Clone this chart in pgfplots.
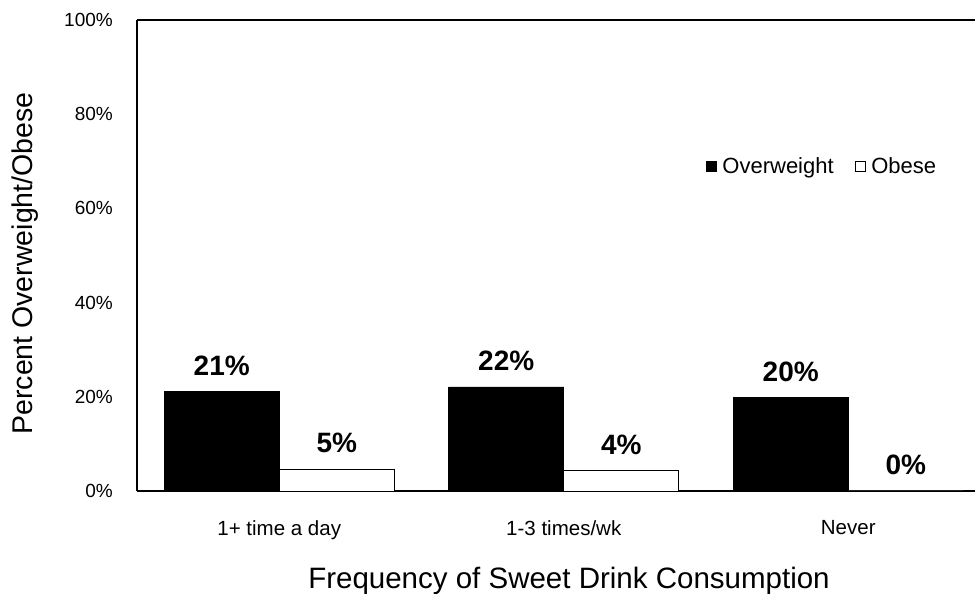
\documentclass[border=0pt]{standalone}
\usepackage{fontspec}
\setmainfont{Liberation Sans}
\usepackage{pgfplots}
\pgfplotsset{compat=1.18}

\pgfplotsset{
  sqleg/.style={legend image code/.code={\draw[##1,line width=0.6pt] (0pt,-5pt) rectangle (10pt,5pt);}},
}

\begin{document}
\begin{tikzpicture}
\begin{axis}[
  scale only axis, width=838pt, height=471pt,
  ybar=0pt, bar width=115pt,
  xmin=-0.5, xmax=2.4455, ymin=0, ymax=100,
  axis x line*=bottom, axis y line*=left,
  axis line style={-, line width=1.5pt},
  xtick=data, xticklabels={1+ time a day,1-3 times/wk,Never},
  ytick={0,20,...,100},
  yticklabel={\pgfmathprintnumber{\tick}\%},
  /pgf/number format/assume math mode=true,
  major tick length=0pt,
  yticklabel style={font=\fontsize{19}{22}\selectfont, inner sep=0pt, xshift=-24pt},
  xticklabel style={font=\fontsize{20.5}{24}\selectfont, inner sep=0pt, yshift=-29pt},
  xlabel={Frequency of Sweet Drink Consumption},
  xlabel style={font=\fontsize{29.5}{34}\selectfont, at={(rel axis cs:0.5155,0)}, anchor=base, yshift=-97pt},
  ylabel={Percent Overweight/Obese},
  ylabel style={font=\fontsize{28.5}{33}\selectfont, at={([xshift=-104pt]rel axis cs:0,0.483)}, anchor=base},
  nodes near coords={\pgfmathprintnumber[fixed,precision=0]{\pgfplotspointmeta}\%},
  nodes near coords style={font=\bfseries\fontsize{28}{32}\selectfont, anchor=south, inner sep=0pt, yshift=16pt, text=black},
  legend style={at={(rel axis cs:0.675,0.69)}, anchor=west, draw=none, fill=none,
    legend columns=2, font=\fontsize{22}{26}\selectfont,
    /tikz/every even column/.append style={column sep=19pt}},
]
\addplot[sqleg, fill=black, draw=black, line width=0.6pt] coordinates {(0,21.1) (1,22.1) (2,19.8)};
\addlegendentry{\hspace{4pt}Overweight}
\addplot[sqleg, fill=white, draw=black, line width=0.8pt] coordinates {(0,4.6) (1,4.3) (2,0)};
\addlegendentry{\hspace{4pt}Obese}
\draw[line width=1.5pt] (rel axis cs:0,1) -- (rel axis cs:1,1);
\coordinate (o) at (rel axis cs:0,0);
\end{axis}
\pgfresetboundingbox
\path ([shift={(-137pt,-103pt)}]o) rectangle ([shift={(838pt,491pt)}]o);
\end{tikzpicture}
\end{document}
